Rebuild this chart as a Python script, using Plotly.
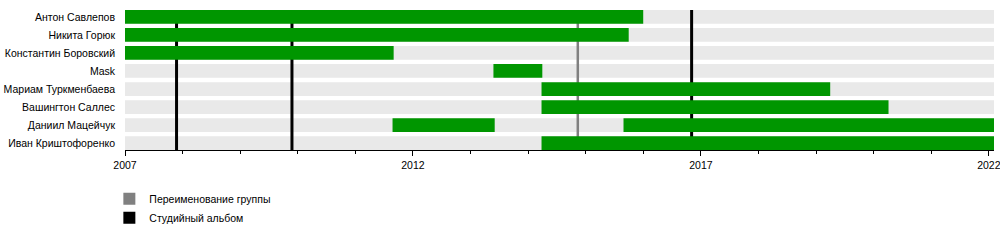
import plotly.graph_objects as go
import pandas as pd

# ---- data ----
members = [
    "Антон Савлепов",
    "Никита Горюк",
    "Константин Боровский",
    "Mask",
    "Мариам Туркменбаева",
    "Вашингтон Саллес",
    "Даниил Мацейчук",
    "Иван Криштофоренко",
]
# membership periods: (member, start, end)
period_member = ["Антон Савлепов", "Никита Горюк", "Константин Боровский", "Mask",
                 "Мариам Туркменбаева", "Вашингтон Саллес", "Даниил Мацейчук",
                 "Даниил Мацейчук", "Иван Криштофоренко"]
period_start = ["2007-01-01", "2007-01-01", "2007-01-01", "2013-05-26",
                "2014-03-27", "2014-03-27", "2011-08-25", "2015-08-29", "2014-03-27"]
period_end = ["2016-01-01", "2015-10-01", "2011-09-01", "2014-04-01",
              "2019-04-01", "2020-04-05", "2013-06-03", "2022-02-03", "2022-02-03"]

timeline_start = "2007-01-01"
timeline_end = "2022-02-03"

major_ticks = ["2007-01-01", "2012-01-01", "2017-01-01", "2022-01-01"]
major_labels = ["2007", "2012", "2017", "2022"]

rename_dates = ["2014-11-12"]
album_dates = ["2007-11-24", "2009-11-25", "2016-11-03"]

legend_labels = ["Переименование группы", "Студийный альбом"]

GREEN = "#009600"
BG = "#e9e9e9"
GRAY = "#808080"
BLACK = "#000000"
HALF = 0.38

fig = go.Figure()

shapes = []
# background rows
for i, m in enumerate(members):
    shapes.append(dict(type="rect", xref="x", yref="y", x0=timeline_start, x1=timeline_end,
                       y0=i - HALF, y1=i + HALF, fillcolor=BG, line=dict(width=0), layer="below"))
# event lines
for d in rename_dates:
    shapes.append(dict(type="line", xref="x", yref="y", x0=d, x1=d, y0=-HALF, y1=len(members) - 1 + HALF,
                       line=dict(color=GRAY, width=2.5), layer="below"))
for d in album_dates:
    shapes.append(dict(type="line", xref="x", yref="y", x0=d, x1=d, y0=-HALF, y1=len(members) - 1 + HALF,
                       line=dict(color=BLACK, width=3), layer="below"))

starts = pd.to_datetime(period_start)
ends = pd.to_datetime(period_end)
durations = [(e - s).total_seconds() * 1000 for s, e in zip(starts, ends)]

fig.add_trace(go.Bar(
    orientation="h", y=period_member, x=durations, base=period_start,
    marker=dict(color=GREEN, line=dict(width=0)), width=2 * HALF, showlegend=False,
    hoverinfo="skip",
))

for lab, col in zip(legend_labels, [GRAY, BLACK]):
    fig.add_trace(go.Scatter(
        x=[None], y=[None], mode="markers", name=lab,
        marker=dict(symbol="square", size=11, color=col),
    ))

fig.update_layout(
    width=1000, height=250,
    margin=dict(l=125, r=5.5, t=10, b=100, autoexpand=False),
    plot_bgcolor="white", paper_bgcolor="white",
    font=dict(family="Liberation Sans, Arial, sans-serif", size=10.5, color="black"),
    shapes=shapes,
    barmode="overlay",
    showlegend=True,
    legend=dict(x=-0.018, y=-0.245, xanchor="left", yanchor="top", orientation="v",
                font=dict(size=10.5), tracegroupgap=0, itemsizing="constant"),
    xaxis=dict(
        type="date", range=[timeline_start, timeline_end],
        tickmode="array", tickvals=major_ticks, ticktext=major_labels,
        ticks="outside", ticklen=5, tickcolor="black", tickwidth=1,
        ticklabeloverflow="allow", automargin=False,
        minor=dict(dtick="M12", tick0="2007-01-01", ticks="outside", ticklen=3,
                   tickcolor="black", tickwidth=1),
        showline=True, linecolor="black", linewidth=1,
        showgrid=False, zeroline=False, fixedrange=True,
    ),
    yaxis=dict(
        type="category", categoryorder="array", categoryarray=members,
        range=[len(members) - 1 + HALF, -HALF],
        showgrid=False, zeroline=False, showline=False, ticks="",
        ticklabelstandoff=9, fixedrange=True, automargin=False,
    ),
)

fig.write_html("out.html")
